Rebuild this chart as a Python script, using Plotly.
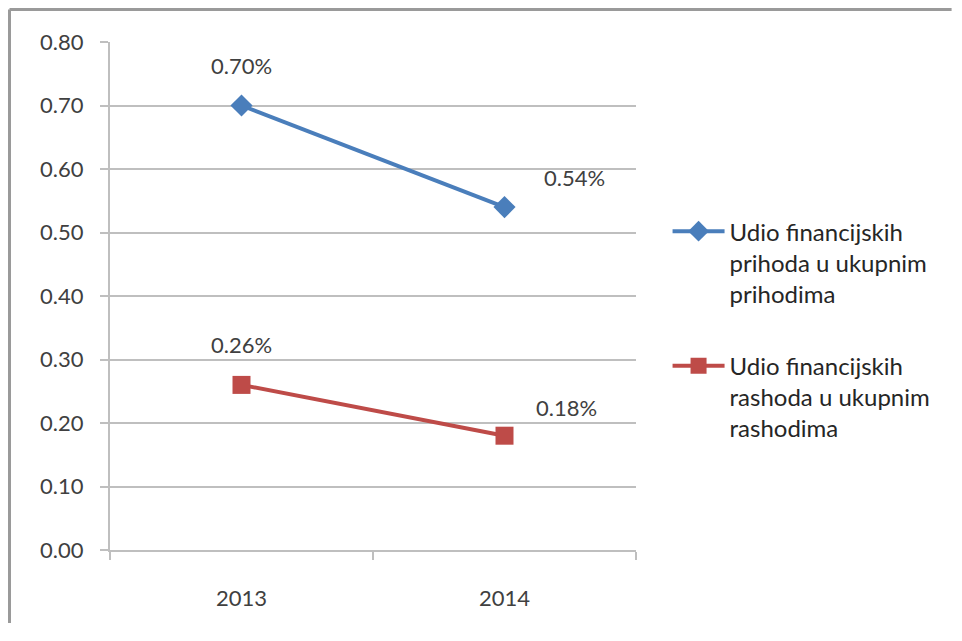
import plotly.graph_objects as go

# data
years = ["2013", "2014"]
prihodi = [0.70, 0.54]
rashodi = [0.26, 0.18]
prihodi_name = "Udio financijskih<br>prihoda u ukupnim<br>prihodima"
rashodi_name = "Udio financijskih<br>rashoda u ukupnim<br>rashodima"
y_ticks = [0.0, 0.1, 0.2, 0.3, 0.4, 0.5, 0.6, 0.7, 0.8]

BLUE = "#4a7ebb"
RED = "#be4b48"
GRID = "#bfbfbf"
FONT = "Lato"

fig = go.Figure()

fig.add_trace(go.Scatter(
    x=years, y=prihodi, name=prihodi_name, legendgroup="a",
    mode="lines+markers",
    line=dict(color=BLUE, width=4),
    marker=dict(symbol="diamond", size=17, color=BLUE),
))
fig.add_trace(go.Scatter(
    x=years, y=rashodi, name=rashodi_name, legendgroup="b",
    mode="lines+markers",
    line=dict(color=RED, width=4),
    marker=dict(symbol="square", size=18, color=RED),
))

# value labels, placed like the original (numeric category index)
label_shifts = {"a": [(0, 40), (70, 30)], "b": [(0, 40), (62, 28)]}
for series, key in [(prihodi, "a"), (rashodi, "b")]:
    for i, (v, (dx, dy)) in enumerate(zip(series, label_shifts[key])):
        fig.add_annotation(
            x=i, y=v, xref="x", yref="y", text=f"{v:.2f}%", showarrow=False,
            xshift=dx, yshift=dy,
            font=dict(family=FONT, size=22, color="#404040"),
        )

# grey frame on the left and top edges
frame = dict(color="#9a9a9a", width=3)
left_x = -100.5 / 526
top_y = 1 + 32.5 / 508
fig.add_shape(type="line", xref="paper", yref="paper",
              x0=left_x, x1=left_x, y0=top_y, y1=-0.2, line=frame)
fig.add_shape(type="line", xref="paper", yref="paper",
              x0=left_x, x1=1.6, y0=top_y, y1=top_y, line=frame)

fig.update_layout(
    width=946, height=615,
    margin=dict(l=102, r=318, t=34, b=73),
    paper_bgcolor="white", plot_bgcolor="white",
    font=dict(family=FONT, size=22, color="#404040"),
    legend=dict(
        x=1.06, xanchor="left", y=0.433, yanchor="middle",
        valign="top", tracegroupgap=38, itemwidth=52,
        font=dict(family=FONT, size=24, color="#262626"),
    ),
    xaxis=dict(
        type="category", range=[-0.5, 1.5],
        showline=True, linecolor=GRID, linewidth=2,
        ticks="outside", tickson="boundaries", ticklen=8,
        tickcolor=GRID, tickwidth=2,
        showgrid=False, ticklabelstandoff=28,
        tickfont=dict(family=FONT, size=22, color="#404040"),
    ),
    yaxis=dict(
        range=[0, 0.8], tickvals=y_ticks, tickformat=".2f",
        showline=True, linecolor=GRID, linewidth=2,
        ticks="outside", ticklen=8, tickcolor=GRID, tickwidth=2,
        showgrid=True, gridcolor=GRID, gridwidth=2,
        zeroline=False, ticklabelstandoff=12,
        tickfont=dict(family=FONT, size=22, color="#404040"),
    ),
)

fig.write_html("out.html")
